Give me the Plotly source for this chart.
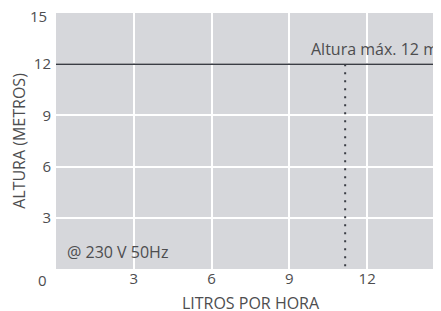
import plotly.graph_objects as go

# data
x_ticks = [3, 6, 9, 12, 15]
y_ticks = [3, 6, 9, 12]
y_top_tick = 15
max_height_x = [0, 15]
max_height_y = [12, 12]
flow_x = [11.15, 11.15]
flow_y = [12, 0]
label_max = "Altura máx. 12 m"
label_volt = "@ 230 V 50Hz"

TXT = "#4d4d4f"
FONT = "Open Sans"

fig = go.Figure()
fig.add_trace(go.Scatter(x=max_height_x, y=max_height_y, mode="lines",
                         line=dict(color="#3a3d44", width=1.5), hoverinfo="skip"))
fig.add_trace(go.Scatter(x=flow_x, y=flow_y, mode="lines",
                         line=dict(color="#3a3d44", width=2, dash="2px,6px"), hoverinfo="skip"))

fig.update_layout(
    width=441, height=311,
    margin=dict(l=48, r=4, t=5, b=50, autoexpand=False),
    paper_bgcolor="white",
    plot_bgcolor="#d6d7db",
    showlegend=False,
    font=dict(family=FONT, color=TXT, size=15),
    xaxis=dict(range=[0, 15], tickvals=x_ticks, showgrid=True, gridcolor="white",
               gridwidth=1.5, zeroline=False, showline=False, ticks="",
               ticklabelstandoff=-1, ticklabeloverflow="allow", automargin=False,
               title=dict(text="LITROS POR HORA", font=dict(size=16), standoff=10),
               tickfont=dict(size=15)),
    yaxis=dict(range=[0, 15], tickvals=y_ticks, showgrid=True, gridcolor="white",
               gridwidth=1.5, zeroline=False, showline=False, ticks="",
               ticklabelstandoff=4, ticklabeloverflow="allow", automargin=False,
               title=dict(text="ALTURA (METROS)", font=dict(size=16), standoff=6),
               tickfont=dict(size=15)),
    annotations=[
        dict(text=label_max, x=14.8, y=12, xref="x", yref="y", xanchor="right",
             yanchor="bottom", yshift=2, showarrow=False, font=dict(size=16)),
        dict(text=label_volt, x=0.35, y=1.0, xref="x", yref="y", xanchor="left",
             yanchor="middle", showarrow=False, font=dict(size=16)),
        dict(text="0", x=0, y=0, xref="paper", yref="paper", xanchor="right",
             yanchor="top", xshift=-7, yshift=1, showarrow=False, font=dict(size=15)),
        dict(text=str(y_top_tick), x=0, y=1, xref="paper", yref="paper", xanchor="right",
             yanchor="middle", xshift=-7, yshift=-3, showarrow=False, font=dict(size=15)),
    ],
)

fig.write_html("out.html")
